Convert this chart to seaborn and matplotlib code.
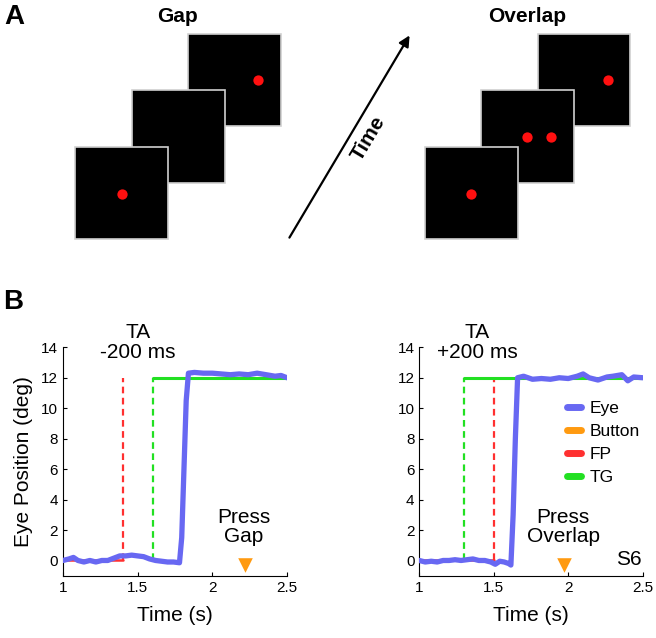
import numpy as np
import pandas as pd
import matplotlib
matplotlib.use('Agg')
import matplotlib.pyplot as plt
from matplotlib.patches import Rectangle
from matplotlib.lines import Line2D
import seaborn as sns

# --- panel A: schematic screens (pixel positions in the figure) ---
gap_screens = [(188, 34, 93, 92), (132, 90, 93, 93), (75, 147, 93, 92)]
gap_dots = [(258, 80), (122, 194)]
overlap_screens = [(538, 34, 92, 92), (481, 90, 93, 93), (425, 147, 93, 92)]
overlap_dots = [(608, 80), (527, 137), (551, 137), (471, 194)]
arrow_start = (288, 240)
arrow_end = (411, 33)

# --- panel B: eye traces (time in s, position in deg) ---
gap_t = [1.00, 1.04, 1.07, 1.10, 1.14, 1.18, 1.22, 1.26, 1.30, 1.34, 1.38, 1.42,
         1.46, 1.50, 1.54, 1.58, 1.62, 1.66, 1.70, 1.74, 1.78, 1.795, 1.81, 1.825,
         1.84, 1.88, 1.94, 2.00, 2.06, 2.12, 2.18, 2.24, 2.30, 2.36, 2.42, 2.46, 2.50]
gap_eye = [0.0, 0.1, 0.2, 0.0, -0.1, 0.0, -0.1, 0.0, 0.0, 0.15, 0.3, 0.3,
           0.35, 0.3, 0.25, 0.1, 0.0, -0.05, -0.1, -0.1, -0.15, 1.5, 6.0, 10.5,
           12.3, 12.35, 12.3, 12.3, 12.25, 12.2, 12.25, 12.2, 12.3, 12.2, 12.1, 12.15, 12.0]

overlap_t = [1.00, 1.04, 1.08, 1.12, 1.16, 1.20, 1.24, 1.28, 1.32, 1.36, 1.40, 1.44,
             1.48, 1.51, 1.54, 1.57, 1.60, 1.615, 1.63, 1.645, 1.66, 1.70, 1.76,
             1.82, 1.88, 1.94, 2.00, 2.06, 2.10, 2.14, 2.20, 2.26, 2.30, 2.36, 2.40, 2.44, 2.50]
overlap_eye = [0.0, -0.1, -0.05, -0.1, 0.0, 0.0, 0.05, 0.0, 0.05, 0.1, 0.0, 0.0,
               -0.1, -0.25, -0.05, -0.1, -0.2, -0.3, 3.0, 8.0, 12.0, 12.1, 11.9,
               11.95, 11.9, 12.0, 11.95, 12.1, 12.25, 12.0, 11.85, 12.05, 12.1, 12.2, 11.8, 12.05, 12.0]

fp_off = [1.4, 1.5]        # FP offset time (s)
tg_on = [1.6, 1.3]         # target onset time (s)
button_t = [2.22, 1.97]    # button press time (s)
target_deg = 12
ta_labels = ['TA\n-200 ms', 'TA\n+200 ms']
press_labels = ['Press\nGap', 'Press\nOverlap']
x_ticks = [1, 1.5, 2, 2.5]
x_ticklabels = ['1', '1.5', '2', '2.5']
y_ticks = [0, 2, 4, 6, 8, 10, 12, 14]

eye_col = '#6868f2'
btn_col = '#ff9a10'
fp_col = '#ff3030'
tg_col = '#22e022'

sns.set_style('ticks')
plt.rcParams['font.family'] = ['Liberation Sans', 'DejaVu Sans']
plt.rcParams['xtick.direction'] = 'in'
plt.rcParams['ytick.direction'] = 'in'
for key in ['text.color', 'axes.labelcolor', 'xtick.color', 'ytick.color', 'axes.edgecolor']:
    plt.rcParams[key] = 'black'

fig = plt.figure(figsize=(6.56, 6.38), dpi=100)

# panel A in pixel coordinates
axA = fig.add_axes([0, 0, 1, 1], zorder=0)
axA.set_xlim(0, 656)
axA.set_ylim(638, 0)
axA.axis('off')
for screens, dots in [(gap_screens, gap_dots), (overlap_screens, overlap_dots)]:
    for k, (x, y, w, h) in enumerate(screens):
        axA.add_patch(Rectangle((x, y), w, h, facecolor='black', edgecolor='#d0d0d0',
                                lw=1.2, zorder=2 + k))
    axA.scatter([d[0] for d in dots], [d[1] for d in dots], s=55, color='#ff1010',
                zorder=10, linewidths=0)
axA.annotate('', xy=arrow_end, xytext=arrow_start,
             arrowprops=dict(arrowstyle='-|>', color='black', lw=1.6, mutation_scale=16))
axA.text(369, 138, 'Time', rotation=59, ha='center', va='center', fontsize=15,
         fontweight='bold')
axA.text(178, 16, 'Gap', ha='center', va='center', fontsize=15, fontweight='bold')
axA.text(527, 16, 'Overlap', ha='center', va='center', fontsize=15, fontweight='bold')
axA.text(4, 17, 'A', ha='left', va='center', fontsize=20, fontweight='bold')
axA.text(3, 302, 'B', ha='left', va='center', fontsize=20, fontweight='bold')

# panel B
bottom = (638 - 575.7) / 638
height = 228.4 / 638
ax1 = fig.add_axes([63 / 656, bottom, 224 / 656, height])
ax2 = fig.add_axes([419.3 / 656, bottom, 223.4 / 656, height])

traces = [(gap_t, gap_eye), (overlap_t, overlap_eye)]
for i, ax in enumerate([ax1, ax2]):
    t, eye = traces[i]
    # FP on until offset, TG on from onset
    ax.plot([1, fp_off[i]], [0, 0], color=fp_col, lw=1.8, zorder=2)
    ax.vlines(fp_off[i], 0, target_deg, color=fp_col, lw=1.6, linestyles=(0, (3, 2)), zorder=2)
    ax.plot([tg_on[i], 2.5], [target_deg, target_deg], color=tg_col, lw=2.2, zorder=2)
    ax.vlines(tg_on[i], 0, target_deg, color=tg_col, lw=1.6, linestyles=(0, (3, 2)), zorder=2)
    df = pd.DataFrame({'t': t, 'eye': eye})
    sns.lineplot(data=df, x='t', y='eye', ax=ax, color=eye_col, lw=3.8, sort=False,
                 estimator=None, zorder=3)
    ax.scatter([button_t[i]], [-0.3], marker='v', s=110, color=btn_col, zorder=4,
               linewidths=0)
    ax.set_xlim(1, 2.5)
    ax.set_ylim(-1, 14)
    ax.set_xticks(x_ticks)
    ax.set_xticklabels(x_ticklabels)
    ax.set_yticks(y_ticks)
    ax.tick_params(labelsize=11, length=3, width=0.8, colors='black')
    ax.spines['top'].set_visible(False)
    ax.spines['right'].set_visible(False)
    ax.spines['left'].set_bounds(-1, 14)
    ax.set_xlabel('Time (s)', fontsize=15, labelpad=8)
    ax.set_ylabel('')
    ta_x = 1.5 if i == 0 else 1.39
    ax.text(ta_x, 14.3, ta_labels[i], ha='center', va='center', fontsize=15,
            linespacing=1.05, clip_on=False)
    px = 2.21 if i == 0 else 1.965
    ax.text(px, 2.2, press_labels[i], ha='center', va='center', fontsize=15,
            linespacing=1.0)

ax1.set_ylabel('Eye Position (deg)', fontsize=15, labelpad=6)
ax2.text(2.49, 0.05, 'S6', ha='right', va='center', fontsize=15)

handles = [Line2D([], [], color=c, lw=5) for c in [eye_col, btn_col, fp_col, tg_col]]
ax2.legend(handles, ['Eye', 'Button', 'FP', 'TG'], loc='upper left',
           bbox_to_anchor=(0.59, 0.835), frameon=False, fontsize=12.5,
           handlelength=0.8, handletextpad=0.5, labelspacing=0.45)

fig.savefig('out.png', dpi=100)
